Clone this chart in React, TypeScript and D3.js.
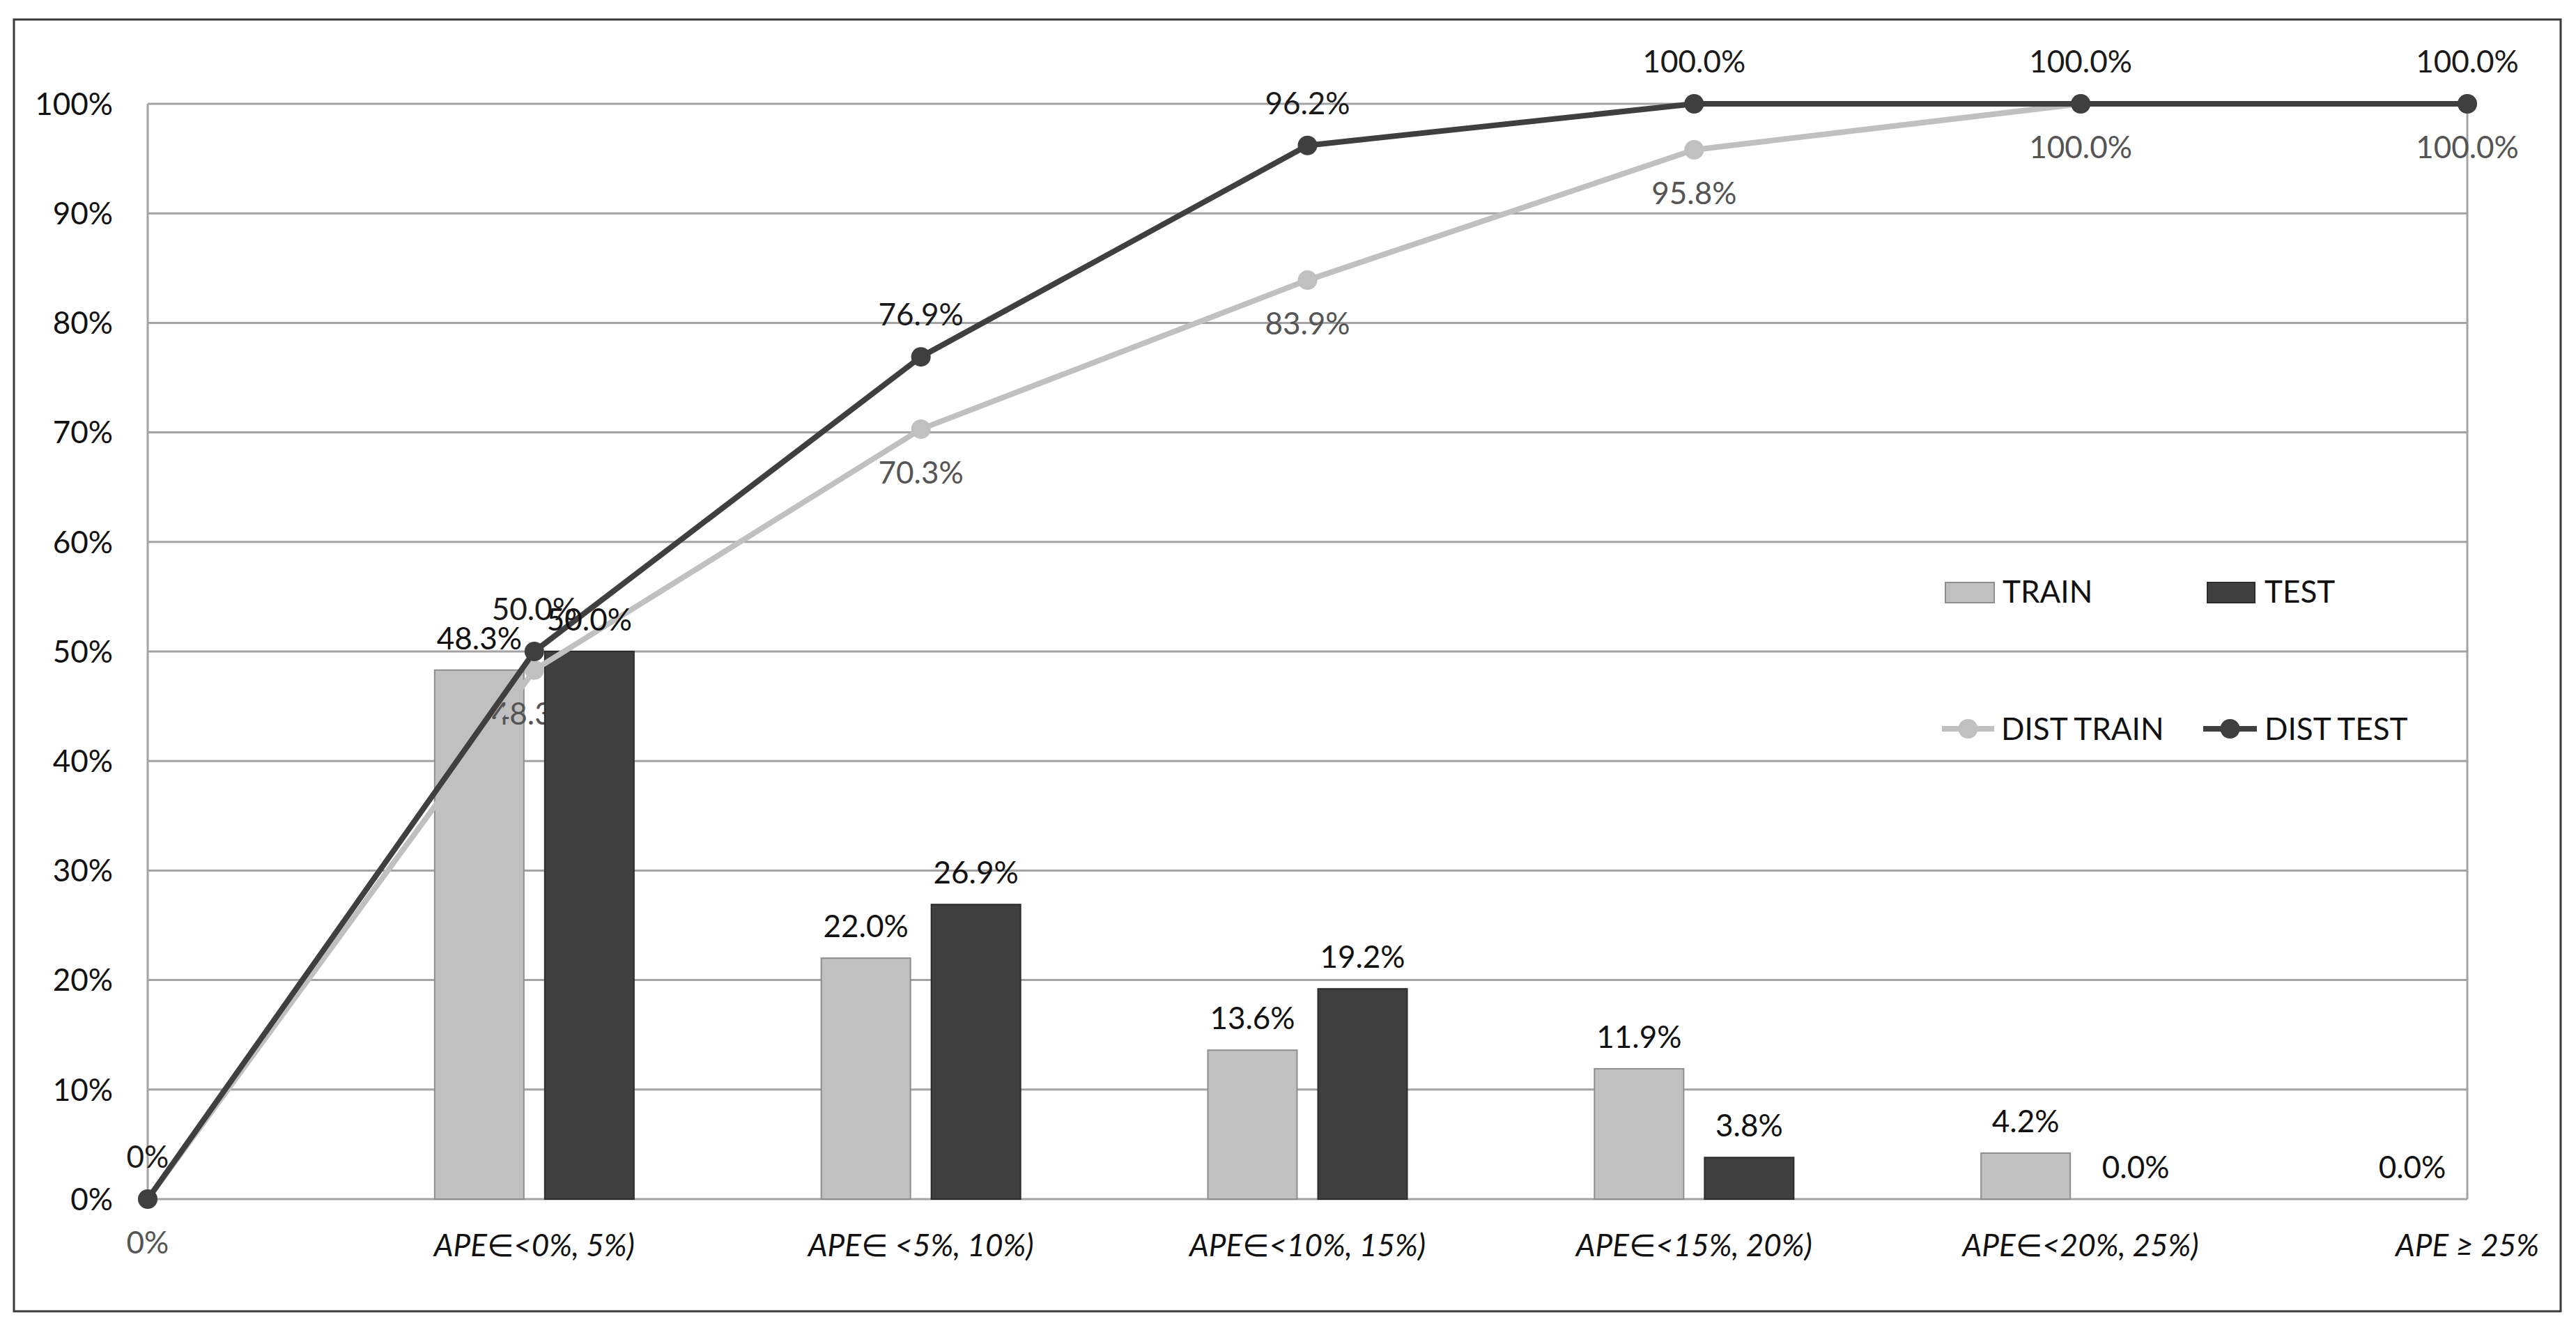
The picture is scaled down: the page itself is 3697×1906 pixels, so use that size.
import React from "react";
import * as d3 from "d3";

// ---- data ----
const categoryLabels = ["", "APE∈<0%, 5%)", "APE∈ <5%, 10%)", "APE∈<10%, 15%)", "APE∈<15%, 20%)", "APE∈<20%, 25%)", "APE ≥ 25%"];
const trainBars = [48.3, 22.0, 13.6, 11.9, 4.2, 0.0];
const testBars = [50.0, 26.9, 19.2, 3.8, 0.0, 0.0];
const distTrain = [0, 48.3, 70.3, 83.9, 95.8, 100.0, 100.0];
const distTest = [0, 50.0, 76.9, 96.2, 100.0, 100.0, 100.0];
const yTicks = [0, 10, 20, 30, 40, 50, 60, 70, 80, 90, 100];
const seriesNames = ["TRAIN", "TEST", "DIST TRAIN", "DIST TEST"];

const W = 3697;
const H = 1906;
const M = { left: 212, right: 3541, top: 149, bottom: 1721 };
const FONT = "Lato, 'Liberation Sans', 'DejaVu Sans', sans-serif";
const FS = 44;

const C_TRAIN = "#c0c0c0";
const C_TRAIN_STROKE = "#8e8e8e";
const C_TEST = "#3f3f3f";
const C_TEST_STROKE = "#2c2c2c";
const C_GRID = "#a3a3a3";

const fmtLine = (v: number, i: number) => (i === 0 ? d3.format(".0%")(v / 100) : d3.format(".1%")(v / 100));
const fmtBar = (v: number) => d3.format(".1%")(v / 100);

export default function App() {
  const x = d3.scalePoint<number>().domain(d3.range(categoryLabels.length)).range([M.left, M.right]).padding(0);
  const y = d3.scaleLinear().domain([0, 100]).range([M.bottom, M.top]);
  const step = x.step();
  const barW = step * 0.2307;
  const off = step * 0.1424;

  const line = d3
    .line<number>()
    .x((_, i) => x(i) as number)
    .y((d) => y(d));

  const trainRects = trainBars.map((v, i) => ({ x: (x(i + 1) as number) - off, v }));
  const testRects = testBars.map((v, i) => ({ x: (x(i + 1) as number) + off, v }));

  const barRect = (b: { x: number; v: number }, key: string, fill: string, stroke: string) => (
    <rect
      key={key}
      x={b.x - barW / 2}
      y={y(b.v)}
      width={barW}
      height={M.bottom - y(b.v)}
      fill={fill}
      stroke={stroke}
      strokeWidth={b.v > 0 ? 2 : 0}
    />
  );

  return (
    <svg
      width={W}
      height={H}
      viewBox={`0 0 ${W} ${H}`}
      style={{ position: "fixed", left: 0, top: 0, background: "#fff", display: "block" }}
      fontFamily={FONT}
      fontSize={FS}
    >
      <rect x={0} y={0} width={W} height={H} fill="#fff" />
      {/* outer chart border */}
      <rect x={20} y={28} width={3655} height={1854} fill="#fff" stroke="#3a3a3a" strokeWidth={3} />

      {/* gridlines */}
      {yTicks.map((t) => (
        <line key={"g" + t} x1={M.left} x2={M.right} y1={y(t)} y2={y(t)} stroke={C_GRID} strokeWidth={3} />
      ))}
      <line x1={M.left} x2={M.left} y1={M.top} y2={M.bottom} stroke={C_GRID} strokeWidth={3} />
      <line x1={M.right} x2={M.right} y1={M.top} y2={M.bottom} stroke={C_GRID} strokeWidth={3} />

      {/* y tick labels */}
      {yTicks.map((t) => (
        <text key={"yt" + t} x={162} y={y(t)} dy="0.36em" textAnchor="end" fill="#111">
          {d3.format(".0%")(t / 100)}
        </text>
      ))}

      {/* category labels */}
      {categoryLabels.map((c, i) => (
        <text key={"c" + i} x={x(i) as number} y={1803} textAnchor="middle" fontStyle="italic" fill="#111">
          {c}
        </text>
      ))}

      {/* TRAIN bars */}
      {trainRects.map((b, i) => barRect(b, "tb" + i, C_TRAIN, C_TRAIN_STROKE))}

      {/* DIST TRAIN labels (below points) */}
      {distTrain.map((v, i) => (
        <text key={"ltr" + i} x={x(i) as number} y={y(v) + 78} textAnchor="middle" fill="#555">
          {fmtLine(v, i)}
        </text>
      ))}

      {/* TEST bars */}
      {testRects.map((b, i) => barRect(b, "sb" + i, C_TEST, C_TEST_STROKE))}

      {/* lines */}
      <path d={line(distTrain) as string} fill="none" stroke={C_TRAIN} strokeWidth={8} strokeLinejoin="round" />
      {distTrain.map((v, i) => (
        <circle key={"mtr" + i} cx={x(i) as number} cy={y(v)} r={14} fill={C_TRAIN} />
      ))}
      <path d={line(distTest) as string} fill="none" stroke={C_TEST} strokeWidth={8} strokeLinejoin="round" />
      {distTest.map((v, i) => (
        <circle key={"mte" + i} cx={x(i) as number} cy={y(v)} r={14} fill={C_TEST} />
      ))}

      {/* bar labels */}
      {trainRects.concat(testRects)
        .filter((b) => b.x <= M.right)
        .map((b, i) => (
          <text key={"bl" + i} x={b.x} y={y(b.v) - 30} textAnchor="middle" fill="#111">
            {fmtBar(b.v)}
          </text>
        ))}

      {/* DIST TEST labels (above points) */}
      {distTest.map((v, i) => (
        <text key={"lte" + i} x={x(i) as number} y={y(v) - 45} textAnchor="middle" fill="#1a1a1a">
          {fmtLine(v, i)}
        </text>
      ))}

      {/* legend */}
      <g>
        <rect x={2792} y={836} width={70} height={29} fill={C_TRAIN} stroke={C_TRAIN_STROKE} strokeWidth={2} />
        <text x={2874} y={865} fill="#111">{seriesNames[0]}</text>
        <rect x={3168} y={836} width={68} height={29} fill={C_TEST} stroke={C_TEST_STROKE} strokeWidth={2} />
        <text x={3250} y={865} fill="#111">{seriesNames[1]}</text>

        <line x1={2787} x2={2862} y1={1046} y2={1046} stroke={C_TRAIN} strokeWidth={8} />
        <circle cx={2824.5} cy={1046} r={14} fill={C_TRAIN} />
        <text x={2872} y={1062} fill="#111">{seriesNames[2]}</text>
        <line x1={3162} x2={3239} y1={1046} y2={1046} stroke={C_TEST} strokeWidth={8} />
        <circle cx={3200.5} cy={1046} r={14} fill={C_TEST} />
        <text x={3250} y={1062} fill="#111">{seriesNames[3]}</text>
      </g>
    </svg>
  );
}
